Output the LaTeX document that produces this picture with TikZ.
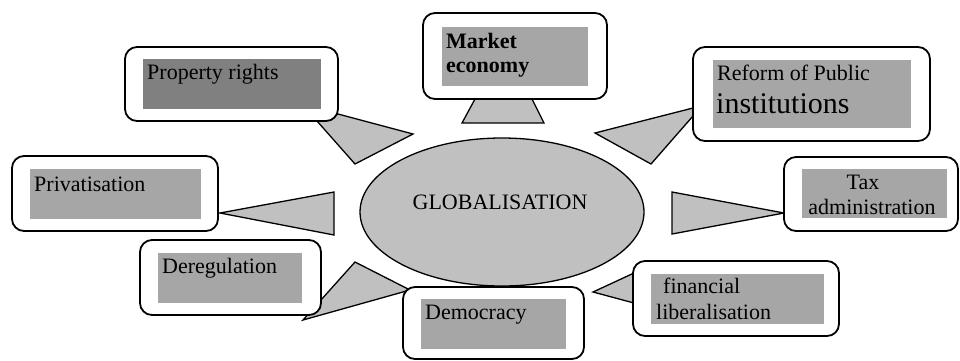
\documentclass[tikz,border=0pt]{standalone}
\usepackage{fontspec}
\setmainfont{Liberation Serif}
\usetikzlibrary{shapes.geometric}
\definecolor{callgray}{HTML}{C0C0C0}
\definecolor{innergray}{HTML}{A6A6A6}
\definecolor{darkinner}{HTML}{808080}
\tikzset{
  outerbox/.style={draw=black, line width=1.8pt, rounded corners=12pt, fill=white},
  innerbox/.style={fill=innergray, draw=none},
  callout/.style={draw=black, line width=1.3pt, fill=callgray, line join=miter},
  lbl/.style={anchor=base west, inner sep=0pt, font=\fontsize{22}{25}\selectfont},
  clbl/.style={anchor=base, inner sep=0pt, font=\fontsize{22}{25}\selectfont}
}
\begin{document}
\begin{tikzpicture}[x=1pt,y=-1pt]
\useasboundingbox (0,0) rectangle (960,360);
% centre ellipse
\node[draw=black, line width=1.3pt, fill=callgray, ellipse, minimum width=284pt, minimum height=148pt, inner sep=0pt] (glob) at (502,212) {};
\node[clbl] (globtext) at (500,209) {GLOBALISATION};
% callouts (drawn under boxes)
\draw[callout] (317,121) -- (355,164) -- (413,134) -- (338,114) -- cycle;
\draw[callout] (475,99) -- (532,99) -- (544,123) -- (462,123) -- cycle;
\draw[callout] (693,108) -- (595,133) -- (651,164) -- (693,116) -- cycle;
\draw[callout] (672,192) -- (672,234) -- (784,213) -- cycle;
\draw[callout] (220,213) -- (334,192) -- (334,235) -- cycle;
\draw[callout] (355,262) -- (410,290) -- (303,320) -- cycle;
\draw[callout] (593,292) -- (634,273) -- (634,303) -- cycle;
% boxes
\draw[outerbox] (125,47) rectangle (338,121);
\fill[darkinner] (143,59) rectangle (321,109);
\draw[outerbox] (423,13) rectangle (607,99);
\fill[innergray] (442,27) rectangle (588,86);
\draw[outerbox] (693,47) rectangle (930,141);
\fill[innergray] (713,60) rectangle (911,128);
\draw[outerbox] (784,157) rectangle (958,231);
\fill[innergray] (802,169) rectangle (947,218);
\draw[outerbox] (12,156) rectangle (218,231);
\fill[innergray] (30,169) rectangle (201,219);
\draw[outerbox] (140,240) rectangle (321,315);
\fill[innergray] (158,253) rectangle (302,303);
\draw[outerbox] (403,287) rectangle (584,359);
\fill[innergray] (421,299) rectangle (566,349);
\draw[outerbox] (633,261) rectangle (839,336);
\fill[innergray] (651,274) rectangle (824,324);
% labels
\node[lbl] (prop) at (147,79) {Property rights};
\node[lbl, font=\fontsize{22}{25}\selectfont\bfseries] (mark1) at (446,48) {Market};
\node[lbl, font=\fontsize{22}{25}\selectfont\bfseries] (mark2) at (446,72) {economy};
\node[lbl] (ref1) at (717,80) {Reform of Public};
\node[lbl, font=\fontsize{30}{32}\selectfont] (ref2) at (716,113) {institutions};
\node[clbl] (tax1) at (863,189) {Tax};
\node[clbl] (tax2) at (872,214) {administration};
\node[lbl] (priv) at (34,191) {Privatisation};
\node[lbl] (dereg) at (162,273) {Deregulation};
\node[lbl] (demo) at (425,319) {Democracy};
\node[lbl] (fin1) at (663,293) {financial};
\node[lbl] (fin2) at (656,319) {liberalisation};
\end{tikzpicture}
\end{document}
